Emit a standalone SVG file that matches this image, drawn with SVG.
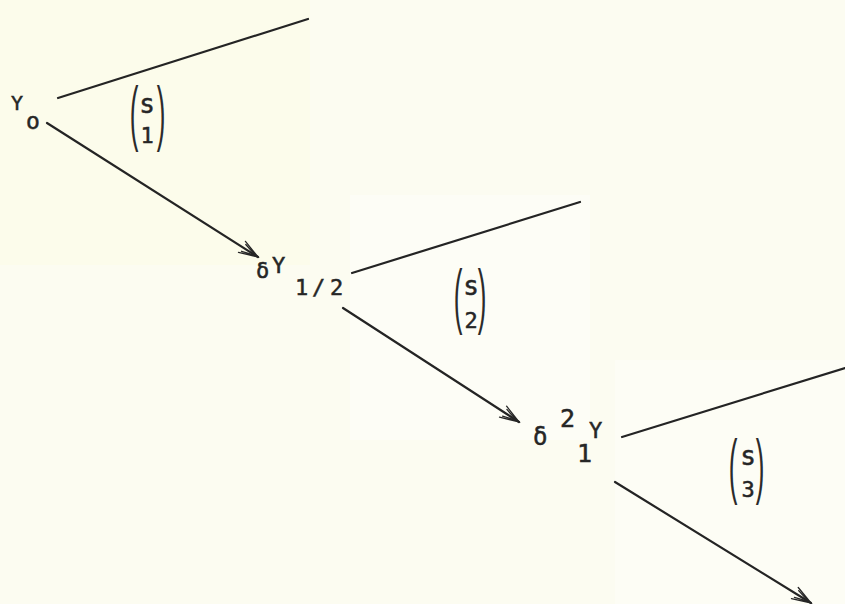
<svg xmlns="http://www.w3.org/2000/svg" width="845" height="604" viewBox="0 0 845 604">
<defs>
<style>
.t{font-family:"DejaVu Sans Mono","Liberation Mono",monospace;fill:#262626;stroke:#262626;stroke-width:0.5}
.ln{stroke:#242424;stroke-width:2.2;fill:none;stroke-linecap:round}
.p{font-family:"Liberation Sans",Arial,sans-serif;fill:#2b2b2b;font-size:26px;text-anchor:middle}
.b{font-family:"DejaVu Sans Mono","Liberation Mono",monospace;fill:#262626;stroke:#262626;stroke-width:0.5;text-anchor:middle}
</style>
<marker id="ah" markerUnits="userSpaceOnUse" markerWidth="30" markerHeight="20" viewBox="-24 -10 28 20" refX="0" refY="0" orient="auto">
<path d="M-19,-6.5 L0,0 L-19,6.5 M-17,-4 L-3,0 L-17,4" fill="none" stroke="#262626" stroke-width="1.3" stroke-linecap="round"/>
</marker>
</defs>
<rect width="845" height="604" fill="#fcfcf1"/>
<rect x="0" y="0" width="310" height="265" fill="#fbfbea" opacity="0.8"/>
<rect x="350" y="195" width="240" height="245" fill="#fdfdf8" opacity="0.8"/>
<rect x="615" y="360" width="230" height="244" fill="#fdfdf8" opacity="0.6"/>
<g id="connectors">
<line class="ln" x1="58" y1="98" x2="308" y2="19"/>
<line class="ln" x1="47" y1="123" x2="258" y2="257" marker-end="url(#ah)"/>
<line class="ln" x1="352" y1="273" x2="580" y2="202"/>
<line class="ln" x1="343" y1="308" x2="519" y2="422" marker-end="url(#ah)"/>
<line class="ln" x1="622" y1="437" x2="845" y2="368"/>
<line class="ln" x1="615" y1="482" x2="811" y2="603" marker-end="url(#ah)"/>
</g>
<g id="node-y0">
<text class="t" x="11" y="110" font-size="20">Y</text>
<text class="t" x="26" y="129" font-size="23">o</text>
</g>
<g id="node-dy12">
<text class="t" x="256" y="278" font-size="22">δ</text>
<text class="t" x="272" y="273" font-size="22">Y</text>
<text class="t" x="295 312 330" y="295" font-size="22">1/2</text>
</g>
<g id="node-d2y1">
<text class="t" x="533" y="445" font-size="24">δ</text>
<text class="t" x="560" y="427" font-size="25">2</text>
<text class="t" x="577" y="462" font-size="25">1</text>
<text class="t" x="589" y="438" font-size="22">Y</text>
</g>
<g id="binom-1">
<text class="p" transform="translate(134,137) scale(1,2.75)">(</text>
<text class="p" transform="translate(161,137) scale(1,2.75)">)</text>
<text class="b" x="147" y="113" font-size="26">s</text>
<text class="b" x="147" y="143" font-size="22">1</text>
</g>
<g id="binom-2">
<text class="p" transform="translate(458,320) scale(1,2.75)">(</text>
<text class="p" transform="translate(482,320) scale(1,2.75)">)</text>
<text class="b" x="471" y="295" font-size="26">s</text>
<text class="b" x="471" y="328" font-size="22">2</text>
</g>
<g id="binom-3">
<text class="p" transform="translate(733,490) scale(1,2.75)">(</text>
<text class="p" transform="translate(760,490) scale(1,2.75)">)</text>
<text class="b" x="748" y="465" font-size="26">s</text>
<text class="b" x="748" y="497" font-size="22">3</text>
</g>
</svg>
